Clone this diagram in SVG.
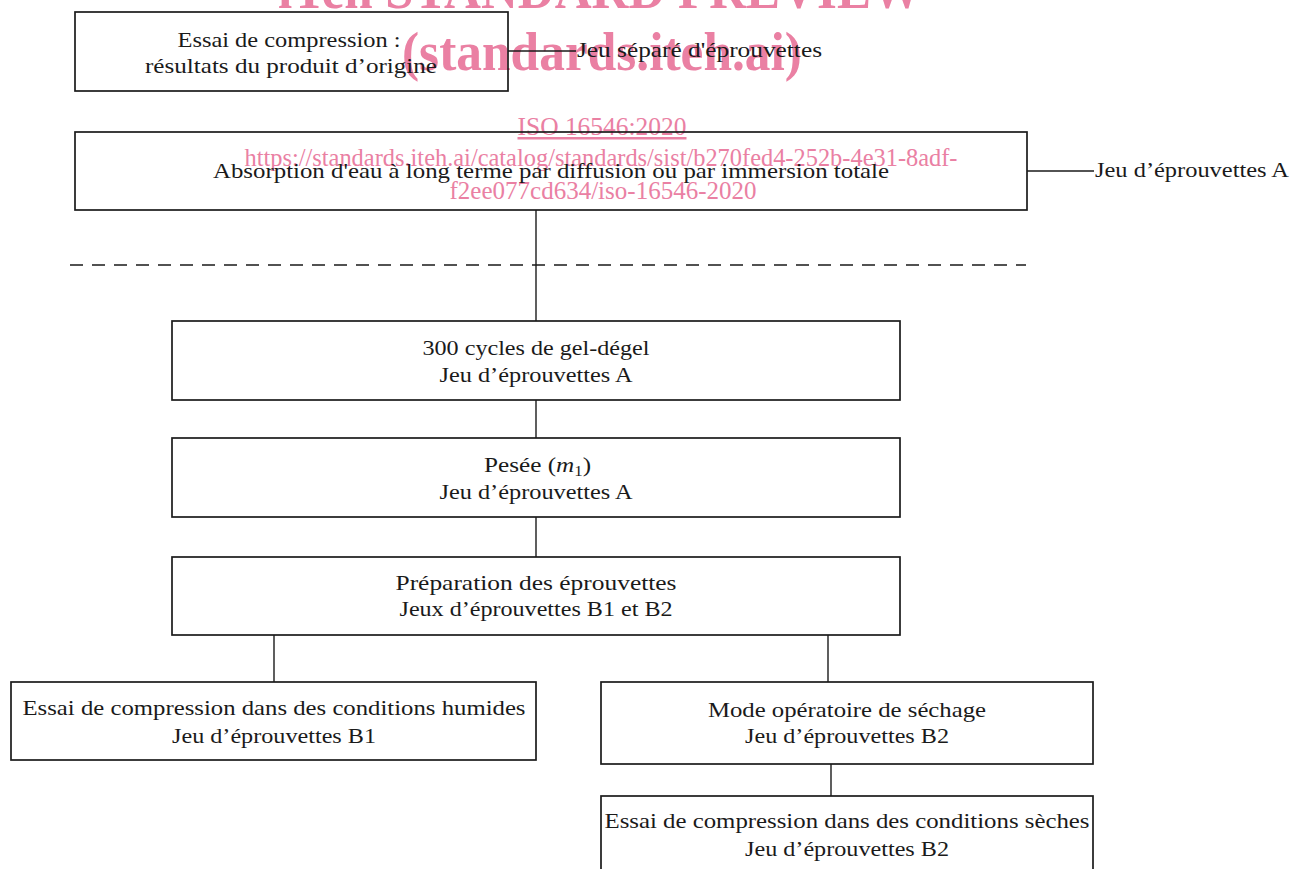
<svg xmlns="http://www.w3.org/2000/svg" width="1303" height="869" viewBox="0 0 1303 869">
<style>
.box{fill:none;stroke:#1a1a1a;stroke-width:1.7}
.ln{fill:none;stroke:#1a1a1a;stroke-width:1.4}
.t{font-family:"Liberation Serif","Times New Roman",serif;font-size:21px;fill:#1a1a1a;text-anchor:middle}
.tl{font-family:"Liberation Serif","Times New Roman",serif;font-size:21px;fill:#1a1a1a}
.wm{font-family:"Liberation Serif","Times New Roman",serif;fill:#ea80a3;text-anchor:middle}
</style>
<rect width="1303" height="869" fill="#ffffff"/>
<g id="watermark">
<text class="wm" x="600" y="8" font-size="56" font-weight="bold" textLength="644" lengthAdjust="spacingAndGlyphs">iTeh STANDARD PREVIEW</text>
<text class="wm" x="602" y="70" font-size="54" font-weight="bold" textLength="400" lengthAdjust="spacingAndGlyphs">(standards.iteh.ai)</text>
<text class="wm" x="602" y="135" font-size="25" textLength="169" lengthAdjust="spacingAndGlyphs" text-decoration="underline">ISO 16546:2020</text>
<text class="wm" x="601" y="166" font-size="25" textLength="713" lengthAdjust="spacingAndGlyphs">https://standards.iteh.ai/catalog/standards/sist/b270fed4-252b-4e31-8adf-</text>
<text class="wm" x="603" y="199" font-size="25" textLength="307" lengthAdjust="spacingAndGlyphs">f2ee077cd634/iso-16546-2020</text>
</g>
<g id="connectors">
<line class="ln" x1="508" y1="51" x2="576" y2="51"/>
<line class="ln" x1="1027" y1="171" x2="1094" y2="171"/>
<line class="ln" x1="536" y1="210" x2="536" y2="321"/>
<line class="ln" x1="536" y1="400" x2="536" y2="438"/>
<line class="ln" x1="536" y1="517" x2="536" y2="557"/>
<line class="ln" x1="274" y1="635" x2="274" y2="682"/>
<line class="ln" x1="828" y1="635" x2="828" y2="682"/>
<line class="ln" x1="831" y1="764" x2="831" y2="796"/>
<line x1="70" y1="265" x2="1026" y2="265" stroke="#1a1a1a" stroke-width="1.7" stroke-dasharray="13 9"/>
</g>
<g id="n1">
<rect class="box" x="75" y="12" width="433" height="79"/>
<text class="t" x="289" y="47" textLength="223" lengthAdjust="spacingAndGlyphs">Essai de compression :</text>
<text class="t" x="291" y="73" textLength="292" lengthAdjust="spacingAndGlyphs">résultats du produit d’origine</text>
</g>
<g id="l1">
<text class="tl" x="577" y="57" textLength="245" lengthAdjust="spacingAndGlyphs">Jeu séparé d'éprouvettes</text>
</g>
<g id="n2">
<rect class="box" x="75" y="132" width="952" height="78"/>
<text class="t" x="551" y="178" textLength="676" lengthAdjust="spacingAndGlyphs">Absorption d'eau à long terme par diffusion ou par immersion totale</text>
</g>
<g id="l2">
<text class="tl" x="1095" y="177" textLength="194" lengthAdjust="spacingAndGlyphs">Jeu d’éprouvettes A</text>
</g>
<g id="n3">
<rect class="box" x="172" y="321" width="728" height="79"/>
<text class="t" x="536" y="355" textLength="227" lengthAdjust="spacingAndGlyphs">300 cycles de gel-dégel</text>
<text class="t" x="536" y="382" textLength="193" lengthAdjust="spacingAndGlyphs">Jeu d’éprouvettes A</text>
</g>
<g id="n4">
<rect class="box" x="172" y="438" width="728" height="79"/>
<text class="tl" transform="translate(484,472) scale(1.2,1)" x="0" y="0">Pesée (<tspan font-style="italic">m</tspan><tspan font-size="14" dy="4">1</tspan><tspan dy="-4">)</tspan></text>
<text class="t" x="536" y="499" textLength="193" lengthAdjust="spacingAndGlyphs">Jeu d’éprouvettes A</text>
</g>
<g id="n5">
<rect class="box" x="172" y="557" width="728" height="78"/>
<text class="t" x="536" y="590" textLength="281" lengthAdjust="spacingAndGlyphs">Préparation des éprouvettes</text>
<text class="t" x="536" y="616" textLength="273" lengthAdjust="spacingAndGlyphs">Jeux d’éprouvettes B1 et B2</text>
</g>
<g id="n6">
<rect class="box" x="11" y="682" width="525" height="78"/>
<text class="t" x="274" y="715" textLength="503" lengthAdjust="spacingAndGlyphs">Essai de compression dans des conditions humides</text>
<text class="t" x="274" y="743" textLength="204" lengthAdjust="spacingAndGlyphs">Jeu d’éprouvettes B1</text>
</g>
<g id="n7">
<rect class="box" x="601" y="682" width="492" height="82"/>
<text class="t" x="847" y="717" textLength="278" lengthAdjust="spacingAndGlyphs">Mode opératoire de séchage</text>
<text class="t" x="847" y="743" textLength="204" lengthAdjust="spacingAndGlyphs">Jeu d’éprouvettes B2</text>
</g>
<g id="n8">
<rect class="box" x="601" y="796" width="492" height="82"/>
<text class="t" x="847" y="828" textLength="485" lengthAdjust="spacingAndGlyphs">Essai de compression dans des conditions sèches</text>
<text class="t" x="847" y="856" textLength="204" lengthAdjust="spacingAndGlyphs">Jeu d’éprouvettes B2</text>
</g>
</svg>
